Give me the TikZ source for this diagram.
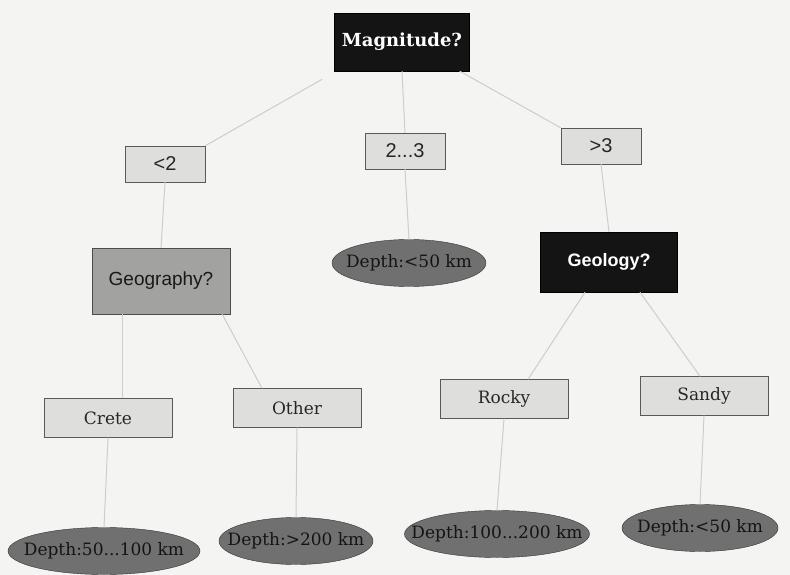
\documentclass[tikz,border=0pt]{standalone}
\usepackage{fontspec}
\setmainfont{DejaVu Serif}
\setsansfont{Liberation Sans}
\usetikzlibrary{shapes.geometric}
\definecolor{bg}{HTML}{F4F4F2}
\definecolor{lbox}{HTML}{DEDEDC}
\definecolor{gbox}{HTML}{A2A2A0}
\definecolor{leaf}{HTML}{707070}
\definecolor{conn}{HTML}{CDCDCB}
\tikzset{
  qdark/.style={rectangle, draw=black, fill=black!92, text=white, font=\bfseries\fontsize{18}{20}\selectfont, inner sep=0pt},
  qgray/.style={rectangle, draw=black!70, fill=gbox, text=black!90, font=\sffamily\fontsize{19}{21}\selectfont, inner sep=0pt},
  lbl/.style={rectangle, draw=black!65, fill=lbox, text=black!85, font=\sffamily\fontsize{20}{22}\selectfont, inner sep=0pt, minimum width=80pt, minimum height=36pt},
  opt/.style={rectangle, draw=black!65, fill=lbox, text=black!85, font=\fontsize{17}{19}\selectfont, inner sep=0pt, minimum width=128pt, minimum height=39pt},
  leafnode/.style={ellipse, draw=black!80, fill=leaf, inner sep=0pt, minimum height=47pt,
    label={[text=black!92, font=\fontsize{17}{19}\selectfont]center:#1}},
  conn/.style={draw=conn, line width=1pt}
}
\begin{document}
\begin{tikzpicture}[x=1pt,y=-1pt]
\fill[bg] (0,0) rectangle (790,575);
\useasboundingbox (0,0) rectangle (790,575);
% nodes
\node[qdark, minimum width=135pt, minimum height=58pt] (mag) at (402,42) {Magnitude?};
\node[lbl] (lt2) at (165,164) {<2};
\node[lbl] (mid) at (405,151) {2...3};
\node[lbl] (gt3) at (601,146) {>3};
\node[qgray, minimum width=138pt, minimum height=66pt] (geo) at (161,281) {Geography?};
\node[leafnode={Depth:<50 km}, minimum width=154pt] (d1) at (409,263) {};
\node[qdark, font=\sffamily\bfseries\fontsize{18}{20}\selectfont, minimum width=137pt, minimum height=60pt] (gol) at (609,262) {Geology?};
\node[opt] (crete) at (108,418) {Crete};
\node[opt] (other) at (297,408) {Other};
\node[opt] (rocky) at (504,399) {Rocky};
\node[opt] (sandy) at (704,396) {Sandy};
\node[leafnode={Depth:50...100 km}, minimum width=192pt] (d2) at (104,551) {};
\node[leafnode={Depth:>200 km}, minimum width=154pt] (d3) at (296,541) {};
\node[leafnode={Depth:100...200 km}, minimum width=185pt] (d4) at (497,534) {};
\node[leafnode={Depth:<50 km}, minimum width=156pt] (d5) at (700,528) {};
% connectors
\draw[conn] ([xshift=-12pt,yshift=-8pt]mag.south west) -- (lt2.north east);
\draw[conn] (mag.south) -- (mid.north);
\draw[conn] ([xshift=-10pt]mag.south east) -- (gt3.north west);
\draw[conn] (lt2.south) -- (geo.north);
\draw[conn] (mid.south) -- (d1.north);
\draw[conn] (gt3.south) -- (gol.north);
\draw[conn] ([xshift=14pt]crete.north |- geo.south) -- ([xshift=14pt]crete.north);
\draw[conn] ([xshift=-8pt]geo.south east) -- ([xshift=-35pt]other.north);
\draw[conn] ([xshift=-24pt]gol.south) -- ([xshift=24pt]rocky.north);
\draw[conn] ([xshift=31pt]gol.south) -- ([xshift=-4pt]sandy.north);
\draw[conn] (crete.south) -- (d2.north);
\draw[conn] (other.south) -- (d3.north);
\draw[conn] (rocky.south) -- (d4.north);
\draw[conn] (sandy.south) -- (d5.north);
\end{tikzpicture}
\end{document}
